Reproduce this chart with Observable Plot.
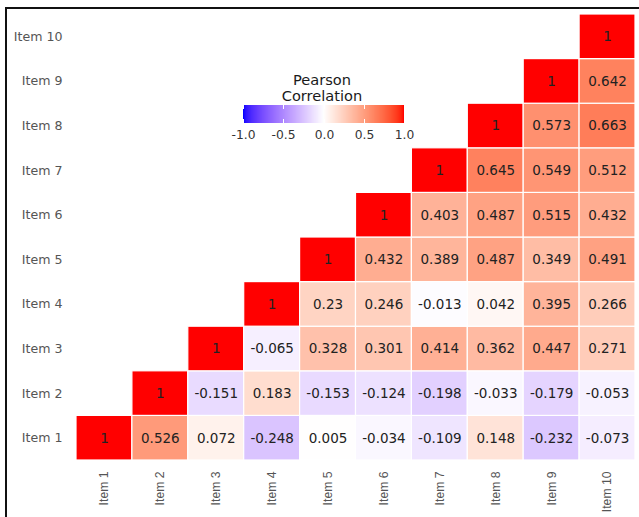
<!DOCTYPE html>
<html>
<head>
<meta charset="utf-8">
<script src="https://cdn.jsdelivr.net/npm/d3@7"></script>
<script src="https://cdn.jsdelivr.net/npm/@observablehq/plot@0.6"></script>
<style>
  html, body { margin: 0; padding: 0; background: white; overflow: hidden; width: 639px; height: 517px; }
  #wrap { position: relative; width: 639px; height: 517px; overflow: hidden; background: white; }
  #frame { position: absolute; left: 5px; top: 7px; width: 800px; height: 700px; border-left: 2px solid #111; border-top: 2px solid #111; pointer-events: none; }
  #chart { position: absolute; left: 0; top: 0; width: 639px; height: 517px; }
  #chart svg { max-width: none !important; display: block; }
  #chart g[aria-label="x-axis tick label"], #chart g[aria-label="x-axis tick label"] text,
  #chart g[aria-label="x-axis"] text { font-family: "Liberation Sans", Arial, sans-serif !important; font-size: 12.2px !important; }
  #legend-title { position: absolute; left: 252px; width: 140px; top: 72px; text-align: center; font-family: "DejaVu Sans", sans-serif; font-size: 14.6px; line-height: 16px; color: #1a1a1a; }
  #legend { position: absolute; left: 227px; top: 105px; }
  #legend svg { background: transparent !important; overflow: visible !important; max-width: none !important; font-family: "DejaVu Sans", sans-serif !important; font-size: 12.3px !important; color: #333; }
</style>
</head>
<body>
<div id="wrap">
  <div id="chart"></div>
  <div id="legend-title">Pearson<br>Correlation</div>
  <div id="legend"></div>
  <div id="frame"></div>
</div>
<script>
const items = ["Item 1", "Item 2", "Item 3", "Item 4", "Item 5", "Item 6", "Item 7", "Item 8", "Item 9", "Item 10"];
// each row: correlations of Item i with Item i..Item 10
const row1 = [1, 0.526, 0.072, -0.248, 0.005, -0.034, -0.109, 0.148, -0.232, -0.073];
const row2 = [1, -0.151, 0.183, -0.153, -0.124, -0.198, -0.033, -0.179, -0.053];
const row3 = [1, -0.065, 0.328, 0.301, 0.414, 0.362, 0.447, 0.271];
const row4 = [1, 0.23, 0.246, -0.013, 0.042, 0.395, 0.266];
const row5 = [1, 0.432, 0.389, 0.487, 0.349, 0.491];
const row6 = [1, 0.403, 0.487, 0.515, 0.432];
const row7 = [1, 0.645, 0.549, 0.512];
const row8 = [1, 0.573, 0.663];
const row9 = [1, 0.642];
const row10 = [1];
const legendTicks = [-1, -0.5, 0, 0.5, 1];

const rows = [row1, row2, row3, row4, row5, row6, row7, row8, row9, row10];
const data = rows.flatMap((r, i) => r.map((v, k) => ({col: items[i + k], row: items[i], v, label: String(v)})));

const colorOpts = {type: "linear", domain: [-1, 0, 1], range: ["blue", "white", "red"], interpolate: "lab"};

const chart = Plot.plot({
  width: 639,
  height: 517,
  marginLeft: 76,
  marginRight: 4,
  marginTop: 14,
  marginBottom: 57,
  style: {fontFamily: "DejaVu Sans, sans-serif", fontSize: "12.6px", color: "#555", background: "transparent", overflow: "visible"},
  x: {domain: items, padding: 0, round: false, tickSize: 0, tickPadding: 11, tickRotate: -90, label: null},
  y: {domain: items.slice().reverse(), padding: 0, round: false, tickSize: 0, tickPadding: 14, label: null},
  color: colorOpts,
  marks: [
    Plot.cell(data, {x: "col", y: "row", fill: "v", stroke: "white", strokeWidth: 1.2}),
    Plot.text(data, {x: "col", y: "row", text: "label", fill: "#222", fontSize: 13.5})
  ]
});
document.getElementById("chart").appendChild(chart);

const legend = Plot.legend({
  color: colorOpts,
  width: 193,
  height: 40,
  marginTop: 0,
  marginBottom: 22,
  marginLeft: 16,
  marginRight: 16,
  tickSize: 4,
  ticks: legendTicks,
  tickFormat: d => d.toFixed(1),
  label: null
});
document.getElementById("legend").appendChild(legend);
// colourbar ticks as short white marks at the top and bottom edges of the bar
d3.select(legend).selectAll(".tick").each(function() {
  const g = d3.select(this);
  g.select("line").attr("y1", -18).attr("y2", -14).attr("stroke", "white").attr("stroke-width", 1);
  g.append("line").attr("x1", 0).attr("x2", 0).attr("y1", -4).attr("y2", 0).attr("stroke", "white").attr("stroke-width", 1);
});
</script>
</body>
</html>
